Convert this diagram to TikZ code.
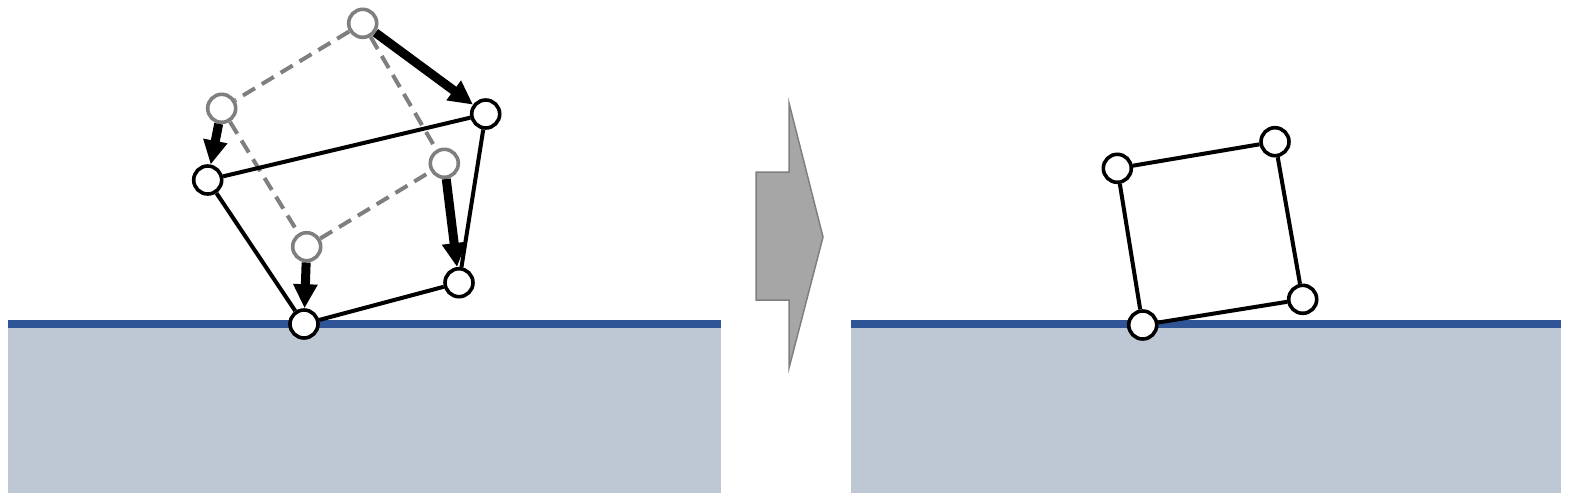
\documentclass[tikz,border=0pt]{standalone}
\usetikzlibrary{arrows.meta}
\definecolor{groundfill}{HTML}{BEC8D4}
\definecolor{groundline}{HTML}{2F5597}
\definecolor{ghost}{HTML}{7F7F7F}
\definecolor{arrowfill}{HTML}{A6A6A6}
\tikzset{
  joint/.style={circle, draw=black, fill=white, line width=3.6pt, minimum size=28pt, inner sep=0pt},
  ghostjoint/.style={circle, draw=ghost, fill=white, line width=3.6pt, minimum size=28pt, inner sep=0pt},
  link/.style={draw=black, line width=4pt},
  ghostlink/.style={draw=ghost, line width=4pt, dash pattern=on 14pt off 8pt},
  move/.style={draw=black, line width=9pt, -{Triangle[length=24pt,width=23pt]}},
  ground/.style={fill=groundfill, draw=none},
  surface/.style={draw=groundline, line width=8pt},
}
\begin{document}
\begin{tikzpicture}[x=1pt,y=-1pt]
\useasboundingbox (0,0) rectangle (1573,499);
% grounds
\fill[ground] (8,324) rectangle (721,493);
\draw[surface] (8,324) -- (721,324);
\fill[ground] (851,324) rectangle (1561,493);
\draw[surface] (851,324) -- (1561,324);
% block arrow
\draw[fill=arrowfill, draw=ghost, line width=1.5pt]
  (756,172) -- (789,172) -- (789,103) -- (823,237) -- (789,368) -- (789,300) -- (756,300) -- cycle;
% left: ghost nodes
\node[ghostjoint] (gt) at (362.7,23.3) {};
\node[ghostjoint] (gl) at (221.7,108.3) {};
\node[ghostjoint] (gr) at (444.3,163.3) {};
\node[ghostjoint] (gb) at (306.7,246.7) {};
% left: black nodes
\node[joint] (bt) at (485.7,114) {};
\node[joint] (bl) at (207.7,180) {};
\node[joint] (br) at (459,282.7) {};
\node[joint] (bb) at (304,324) {};
% ghost links
\draw[ghostlink] (gt) -- (gl);
\draw[ghostlink] (gt) -- (gr);
\draw[ghostlink] (gl) -- (gb);
\draw[ghostlink] (gb) -- (gr);
% black links
\draw[link] (bl) -- (bt);
\draw[link] (bt) -- (br);
\draw[link] (br) -- (bb);
\draw[link] (bb) -- (bl);
% motion arrows
\draw[move] (gt) -- (bt);
\draw[move] (gl) -- (bl);
\draw[move] (gr) -- (br);
\draw[move] (gb) -- (bb);
% right: nodes
\node[joint] (rl) at (1117.3,168.3) {};
\node[joint] (rt) at (1275,141.7) {};
\node[joint] (rr) at (1302.7,299.3) {};
\node[joint] (rb) at (1142.7,325) {};
\draw[link] (rl) -- (rt);
\draw[link] (rt) -- (rr);
\draw[link] (rr) -- (rb);
\draw[link] (rb) -- (rl);
\end{tikzpicture}
\end{document}
